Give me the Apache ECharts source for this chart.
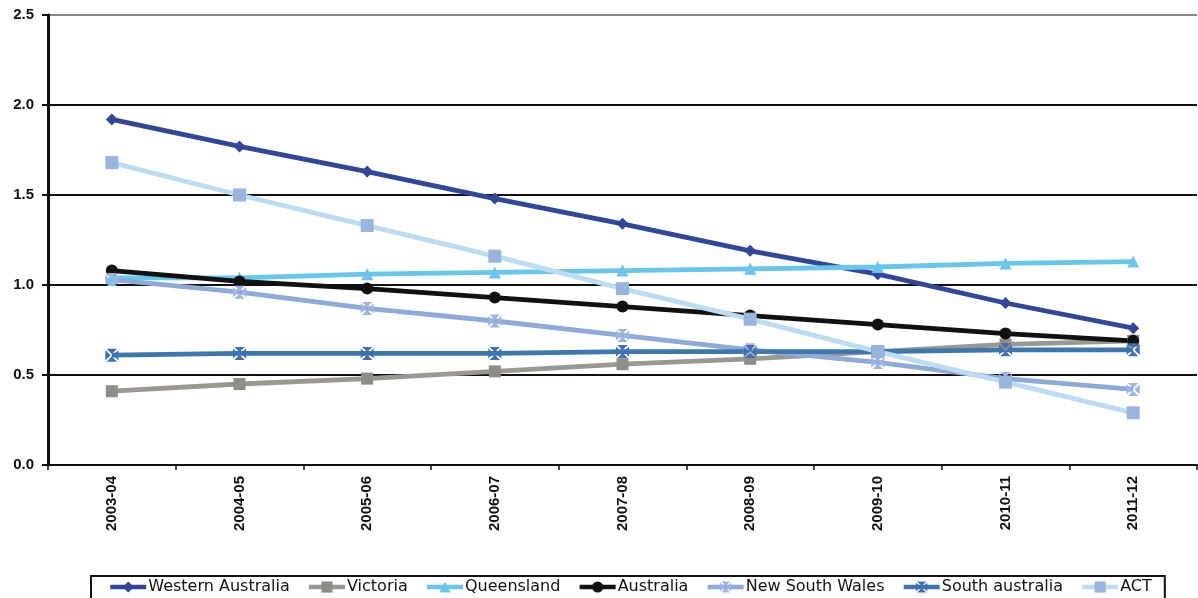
<!DOCTYPE html>
<html><head><meta charset="utf-8">
<script src="https://cdn.jsdelivr.net/npm/echarts@6/dist/echarts.min.js"></script>
<style>html,body{margin:0;padding:0;background:#fff}#c{width:1198px;height:598px}</style>
</head><body><div id="c"></div>
<script>
const categories = ['2003-04','2004-05','2005-06','2006-07','2007-08','2008-09','2009-10','2010-11','2011-12'];
const westernAustralia = [1.92,1.77,1.63,1.48,1.34,1.19,1.06,0.90,0.76];
const victoria = [0.41,0.45,0.48,0.52,0.56,0.59,0.63,0.67,0.69];
const queensland = [1.04,1.04,1.06,1.07,1.08,1.09,1.10,1.12,1.13];
const australia = [1.08,1.02,0.98,0.93,0.88,0.83,0.78,0.73,0.69];
const newSouthWales = [1.03,0.96,0.87,0.80,0.72,0.64,0.57,0.48,0.42];
const southAustralia = [0.61,0.62,0.62,0.62,0.63,0.63,0.63,0.64,0.64];
const act = [1.68,1.50,1.33,1.16,0.98,0.81,0.63,0.46,0.29];
const yTicks = [0,0.5,1.0,1.5,2.0,2.5];

const xSquare = 'path://M1,0 L9,0 L5,4 Z M10,1 L10,9 L6,5 Z M9,10 L1,10 L5,6 Z M0,9 L0,1 L4,5 Z';

function mk(name, data, color, symbol, size, mcolor, width) {
  return {
    name, type: 'line', data, symbol, symbolSize: size,
    lineStyle: { color, width: width || 4.8 },
    itemStyle: { color: mcolor || color, borderWidth: 0 },
    emphasis: { disabled: true }, animation: false
  };
}

const chart = echarts.init(document.getElementById('c'), null, { renderer: 'canvas' });
chart.setOption({
  animation: false,
  grid: { left: 48, right: 1, top: 15, bottom: 133 },
  legend: {
    top: 576, left: 91,
    width: 1100,
    padding: [3, 13, 12, 17],
    borderColor: '#111', borderWidth: 2,
    itemWidth: 36, itemHeight: 14, itemGap: 17,
    lineStyle: { width: 4.5 },
    textStyle: { fontFamily: 'DejaVu Sans', fontSize: 16, color: '#111', padding: [0,0,0,-3] },
    data: ['Western Australia','Victoria','Queensland','Australia','New South Wales','South australia','ACT']
  },
  xAxis: {
    type: 'category', data: categories, boundaryGap: true,
    axisLine: { lineStyle: { color: '#111', width: 2 } },
    axisTick: { show: true, interval: 0, length: 5, lineStyle: { color: '#111', width: 1.5 } },
    axisLabel: { rotate: 90, interval: 0, fontFamily: 'Liberation Sans', fontWeight: 'bold', fontSize: 15, color: '#111', margin: 11 }
  },
  yAxis: {
    type: 'value', min: 0, max: 2.5, interval: 0.5,
    axisLine: { show: true, lineStyle: { color: '#111', width: 3 } },
    axisTick: { show: true, length: 6, lineStyle: { color: '#111', width: 2 } },
    axisLabel: { fontFamily: 'Liberation Sans', fontWeight: 'bold', fontSize: 15, color: '#111', margin: 14,
      formatter: v => yTicks.includes(v) ? v.toFixed(1) : '' },
    splitLine: { show: true, lineStyle: { color: ['#111','#111','#111','#111','#111','#888'], width: 2 } }
  },
  series: [
    mk('Western Australia', westernAustralia, '#30479c', 'diamond', 12),
    mk('Victoria', victoria, '#9b9892', 'rect', 12, '#8f8d88'),
    mk('Queensland', queensland, '#66c6ec', 'triangle', 12),
    mk('Australia', australia, '#111111', 'circle', 12),
    mk('New South Wales', newSouthWales, '#8eaadb', xSquare, 13, '#9fb5e0'),
    mk('South australia', southAustralia, '#3a78ad', xSquare, 13, '#3f6fb5'),
    mk('ACT', act, '#bcdcf2', 'rect', 13, '#9ab5dd')
  ]
});
</script></body></html>
